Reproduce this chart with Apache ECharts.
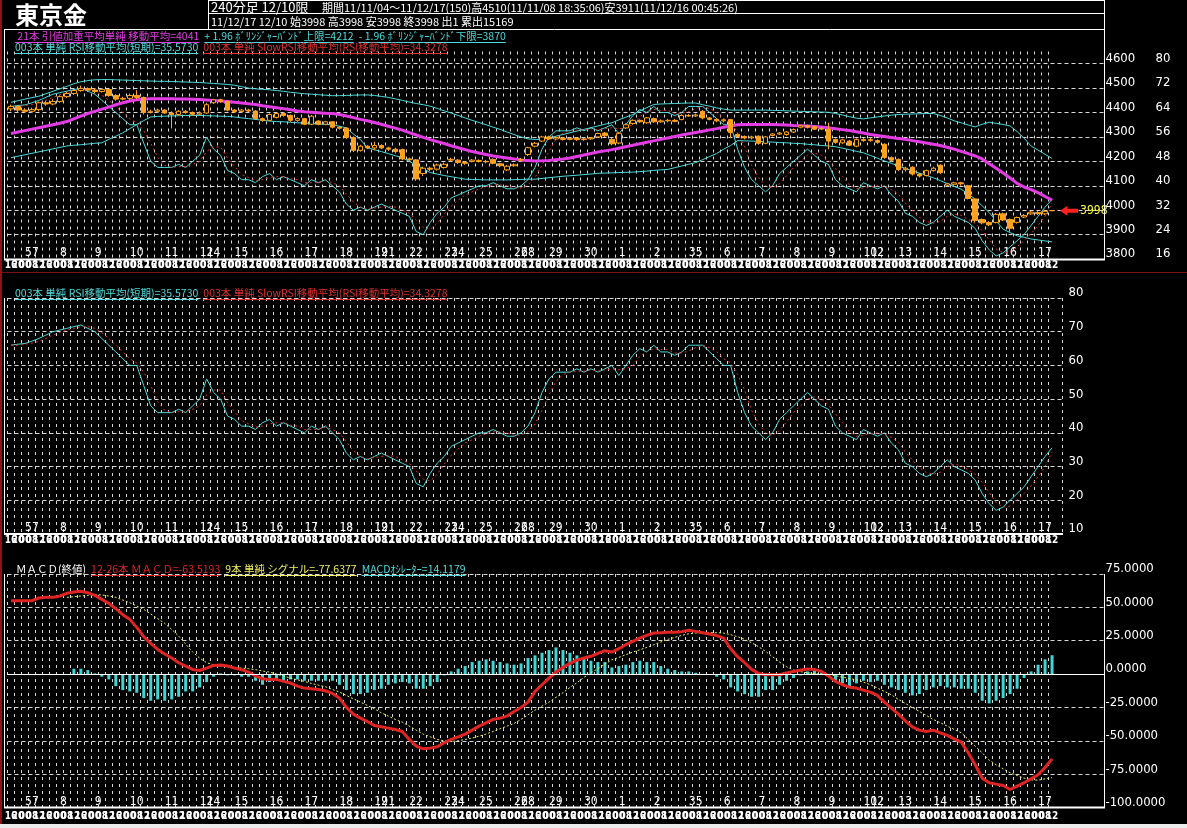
<!DOCTYPE html>
<html>
<head>
<meta charset="utf-8">
<title>東京金</title>
<script src="https://cdn.jsdelivr.net/npm/echarts@6/dist/echarts.min.js"></script>
<style>
html,body{margin:0;padding:0;background:#000;}
#main{width:1187px;height:828px;}
</style>
</head>
<body>
<div id="main"></div>
<script>
// 240分足 11/11/04 - 11/12/17, 150本
var dayTickIndex = [2,3,7,12,17,22,27,28,32,37,42,47,52,53,57,62,63,67,72,73,77,82,87,92,97,98,102,107,112,117,122,123,127,132,137,142,147];
var dayTickText = ['5','7','8','9','10','11','12','14','15','16','17','18','19','21','22','23','24','25','26','28','29','30','1','2','3','5','6','7','8','9','10','12','13','14','15','16','17'];
var hourCycle = ['16','20','00','08','12'];

// [始, 終, 安, 高]
var ohlc = [
[4415,4425,4405,4432],[4425,4410,4402,4428],[4410,4405,4398,4418],[4405,4412,4398,4420],[4412,4440,4405,4445],
[4440,4435,4428,4448],[4435,4445,4430,4455],[4445,4465,4440,4470],[4465,4478,4460,4485],[4478,4490,4472,4495],
[4490,4498,4485,4510],[4498,4492,4485,4503],[4492,4486,4478,4500],[4486,4494,4482,4500],[4494,4470,4465,4496],
[4470,4455,4448,4475],[4455,4458,4450,4465],[4458,4470,4450,4478],[4470,4462,4455,4492],[4462,4400,4392,4465],
[4400,4405,4396,4412],[4405,4410,4398,4416],[4410,4398,4395,4414],[4398,4392,4335,4405],[4392,4405,4388,4410],
[4405,4400,4395,4410],[4400,4393,4388,4404],[4393,4398,4388,4405],[4398,4432,4395,4440],[4440,4452,4435,4456],
[4452,4446,4440,4456],[4446,4410,4405,4448],[4410,4404,4398,4414],[4404,4410,4400,4414],[4410,4406,4402,4415],
[4406,4375,4370,4410],[4375,4368,4362,4380],[4368,4392,4365,4396],[4380,4396,4376,4399],[4396,4388,4383,4401],
[4388,4368,4362,4392],[4368,4375,4362,4380],[4375,4352,4348,4378],[4352,4385,4348,4390],[4365,4352,4348,4368],
[4352,4362,4348,4366],[4362,4340,4335,4365],[4340,4336,4330,4345],[4336,4298,4292,4340],[4298,4245,4238,4302],
[4245,4262,4240,4268],[4262,4255,4250,4266],[4255,4265,4245,4280],[4265,4255,4250,4270],[4255,4250,4243,4260],
[4250,4240,4232,4256],[4248,4210,4205,4252],[4210,4206,4200,4216],[4206,4128,4120,4210],[4150,4172,4140,4178],
[4172,4168,4160,4178],[4168,4185,4162,4190],[4175,4188,4170,4195],[4205,4208,4200,4215],[4205,4195,4190,4210],
[4195,4192,4186,4200],[4200,4205,4196,4210],[4204,4200,4195,4208],[4200,4198,4192,4206],[4208,4192,4188,4212],
[4190,4182,4176,4194],[4165,4180,4160,4186],[4182,4186,4178,4192],[4205,4208,4200,4214],[4228,4256,4222,4260],
[4262,4274,4258,4280],[4283,4300,4280,4305],[4300,4292,4288,4305],[4292,4298,4288,4302],[4294,4290,4285,4300],
[4290,4294,4286,4298],[4294,4289,4284,4298],[4289,4292,4284,4297],[4292,4296,4288,4300],[4300,4314,4296,4318],
[4316,4305,4300,4320],[4290,4272,4266,4295],[4275,4315,4270,4320],[4337,4350,4332,4356],[4355,4368,4350,4372],
[4368,4362,4358,4372],[4358,4378,4354,4382],[4375,4362,4358,4380],[4362,4366,4358,4372],[4366,4368,4360,4374],
[4368,4364,4360,4374],[4371,4388,4368,4393],[4388,4386,4382,4394],[4386,4390,4382,4396],[4405,4378,4372,4410],
[4378,4372,4368,4382],[4372,4366,4360,4376],[4366,4370,4360,4375],[4371,4318,4295,4374],[4310,4302,4296,4314],
[4302,4296,4290,4306],[4296,4300,4290,4305],[4303,4274,4268,4306],[4274,4300,4270,4304],[4306,4312,4302,4316],
[4312,4316,4308,4320],[4310,4320,4305,4324],[4320,4330,4316,4335],[4340,4346,4335,4350],[4346,4340,4335,4350],
[4342,4332,4328,4346],[4332,4335,4328,4340],[4331,4283,4250,4358],[4290,4278,4272,4294],[4276,4288,4272,4292],
[4283,4266,4262,4288],[4262,4290,4258,4294],[4290,4285,4280,4295],[4285,4290,4280,4296],[4285,4278,4272,4290],
[4270,4216,4210,4274],[4215,4205,4198,4220],[4208,4166,4160,4212],[4166,4172,4158,4178],[4176,4148,4142,4180],
[4148,4140,4134,4152],[4142,4162,4138,4166],[4162,4172,4158,4178],[4184,4154,4148,4188],[4102,4108,4098,4112],
[4106,4112,4100,4116],[4112,4108,4100,4116],[4100,4048,4044,4104],[4046,3958,3950,4050],[3962,3948,3942,3966],
[3950,3940,3935,3955],[3950,3983,3946,3988],[3985,3960,3955,3990],[3962,3926,3911,3966],[3950,3970,3945,3974],
[3972,3978,3968,3984],[3985,3992,3980,3996],[3990,3986,3980,3996],[3985,3995,3980,4002],[3998,3998,3998,3998]
];

var ma21 = [
4314,4320,4326,4332,4338,4344,4350,4356,4363,4374,
4385,4396,4405,4414,4422,4432,4440,4447,4452,4455,
4456,4456,4456,4456,4455,4455,4454,4453,4451,4449,
4447,4445,4442,4439,4436,4433,4428,4424,4420,4416,
4411,4406,4403,4401,4399,4397,4396,4392,4386,4379,
4372,4366,4359,4352,4344,4336,4328,4318,4308,4298,
4289,4281,4273,4264,4256,4248,4240,4234,4228,4222,
4218,4214,4210,4206,4203,4201,4202,4204,4207,4210,
4214,4220,4226,4232,4238,4243,4248,4254,4260,4266,
4272,4278,4284,4290,4296,4302,4308,4313,4318,4323,
4329,4334,4340,4345,4350,4351,4351,4351,4351,4351,
4350,4349,4347,4346,4345,4343,4341,4338,4334,4330,
4326,4321,4316,4310,4306,4302,4298,4294,4290,4285,
4280,4275,4270,4265,4258,4250,4241,4232,4222,4210,
4190,4172,4152,4132,4110,4095,4084,4072,4056,4041
];

var bbUpper = [
4442,4448,4455,4461,4467,4477,4487,4497,4507,4518,
4526,4531,4534,4535,4535,4534,4533,4532,4531,4530,
4529,4528,4528,4527,4526,4525,4524,4523,4521,4519,
4517,4515,4512,4506,4500,4497,4495,4493,4490,4487,
4483,4480,4477,4475,4473,4471,4469,4469,4470,4471,
4472,4472,4470,4466,4462,4456,4450,4443,4437,4432,
4426,4417,4407,4398,4388,4378,4368,4359,4350,4340,
4331,4320,4310,4300,4292,4290,4290,4296,4303,4310,
4317,4324,4331,4338,4345,4352,4358,4370,4381,4392,
4406,4420,4433,4435,4436,4437,4438,4439,4439,4432,
4426,4419,4414,4410,4410,4410,4410,4410,4410,4409,
4408,4407,4406,4405,4404,4403,4402,4401,4396,4390,
4383,4377,4374,4378,4382,4386,4389,4392,4393,4394,
4395,4396,4396,4388,4378,4366,4358,4349,4341,4352,
4360,4356,4351,4345,4322,4295,4263,4246,4229,4212
];

var bbLower = [
4215,4221,4227,4233,4239,4245,4251,4257,4263,4266,
4268,4271,4274,4276,4290,4303,4317,4334,4351,4367,
4382,4384,4385,4386,4387,4388,4388,4388,4387,4386,
4385,4384,4382,4378,4375,4372,4368,4365,4363,4362,
4360,4358,4357,4355,4353,4351,4350,4344,4337,4312,
4290,4256,4248,4240,4232,4223,4215,4200,4185,4170,
4154,4148,4142,4137,4132,4127,4126,4125,4124,4124,
4124,4124,4125,4126,4127,4127,4130,4133,4136,4139,
4141,4143,4146,4148,4151,4152,4153,4154,4155,4156,
4158,4160,4163,4165,4167,4174,4181,4188,4195,4207,
4220,4232,4250,4265,4285,4284,4283,4282,4280,4279,
4277,4276,4274,4273,4270,4268,4265,4263,4260,4254,
4248,4241,4235,4224,4213,4202,4192,4181,4171,4162,
4152,4143,4133,4121,4109,4097,4086,4066,4045,4018,
3990,3956,3922,3908,3895,3889,3882,3878,3874,3870
];

var rsi = [
66,66.3,66.5,67.2,68,69,70,70.5,71,71.5,
72,71,70,68,66,64,62,60,60,54,
48,46,46,46,47,46,48,50,56,52,
50,45,44,42,42,41,43,44,42,43,
42,41,40,42,41,42,40,38,34,32,
33,32,33,34,33,32,31,30,25,24,
28,31,33,36,37,38,39,40,40,41,
40,39,39,40,42,46,52,56,58,58,
58,59,58,59,58,59,60,57,60,63,
65,64,66,64,64,63,64,66,66,66,
64,62,60,60,52,46,42,40,38,40,
44,46,48,50,52,50,48,47,42,40,
39,38,41,40,39,40,37,35,31,30,
28,27,28,30,32,30,29,28,26,22,
19,17,18,20,22,24,27,30,33,35.57
];

var slowRsi = [
66,66,66.3,66.6,67.2,68,69,69.8,70.5,71,
71.5,71.5,71,69.7,68,66,64,62,60.7,58,
54,49.3,46.7,46,46.3,46.3,47,48,51.3,52.7,
52.7,49,46.3,43.7,42.7,41.7,42,42.7,43,43,
42.3,42,41,41,41,41.7,41,40,37.3,34.7,
33,32.3,32.7,33,33.3,33,32,31,28.7,26.3,
25.7,27.7,30.7,33.3,35.3,37,38,39,39.7,40.3,
40.3,40,39.3,39.3,40.3,42.7,46.7,51.3,55.3,57.3,
58,58.3,58.3,58.7,58.3,58.7,59,58.7,59,60,
62.7,64,65,64.7,64.7,63.7,63.7,64.3,65.3,66,
65.3,64,62,60.7,57.3,52.7,46.7,42.7,40,39.3,
40.7,43.3,46,48,50,50.7,50,48.3,45.7,43,
40.3,39,39.3,39.7,40,39.7,38.7,37.3,34.3,32,
29.7,28.3,27.7,28.3,30,30.7,30.3,29,27.7,25.3,
22.3,19.3,18,18.3,20,22,24.3,27,30,34.33
];

var macd = [
55,55,55,55,57,57.5,57.5,58.5,60.5,61.5,
62,61,59,56,53,49,44.5,41,35,28,
23,18.5,15,12,8.5,6,3.5,2.7,4.5,6.5,
6.8,6,4.5,3.3,1.5,-1.5,-3.5,-4,-4,-5.5,
-6.7,-9,-10.5,-11,-11.5,-12.5,-14.5,-18,-25,-30,
-33,-35.5,-38.5,-39.5,-40.5,-41.5,-43,-49,-54,-56,
-55.5,-54.5,-51.5,-49,-47,-45,-42,-39,-36.5,-34,
-33,-31.5,-28,-25,-21,-13,-8,-3,1.5,5,
8,10.5,12,13.3,15.5,17.5,16.5,19,22,24.5,
27,29,30.8,31,31.3,31.3,31.8,32.8,32,31,
30,28.8,27,19,13,8.5,3.5,0.5,-0.5,-0.5,
-0.5,0.8,2,3,3.8,3.5,2,-1.5,-5.5,-8,
-9.8,-10.5,-12,-13.5,-16,-21,-25.5,-30,-35,-39.5,
-42,-43,-42,-44,-46,-48.5,-51,-59,-68,-78,
-81.5,-82.5,-83.5,-86.5,-84,-81.5,-78.5,-75.5,-70,-63.52
];

var signal = [
null,null,null,null,null,null,null,null,57.5,58,
58.5,59,59.5,59.3,58.5,57.5,55.5,53.5,51,48.5,
45,41.5,38,33.5,28.5,22.5,16.5,12,8.5,7,
6,5.5,5,4.5,4,3.3,2.3,1.5,0,-1.5,
-3,-4.3,-5.5,-7,-8.3,-9.5,-11.5,-13.5,-16,-18.5,
-21,-23.5,-26,-29,-31.5,-34,-36,-39,-42,-45,
-47,-49,-50,-50.5,-50,-49,-48,-46.5,-45,-43,
-41,-39,-37,-34,-30.5,-27,-24,-21,-17.5,-14,
-10,-6.5,-2.5,1,4,7.5,10.7,12.5,14.5,16.5,
18.2,20,22,24,26,27.5,29,30.2,30.7,31,
31,31,30.7,29.5,28,26,23.5,20.5,17,13,
9,5.5,3,1.8,1,0.3,0,-0.5,-1.3,-2.3,
-3.3,-4.3,-6,-8,-10.5,-13,-15.5,-19,-22,-25,
-28,-31,-34,-36.5,-39,-41.5,-44,-49,-54,-59,
-64.5,-68,-71,-74,-76,-78,-79.3,-79.5,-78.5,-77.64
];

var osc = [
null,null,null,null,null,null,null,null,null,4,
4,3,0.5,-2,-4,-9,-12,-13,-14,-18,
-20,-19,-20,-19,-17,-13,-13,-10,-6,-2,
0.5,-1,-1,-2,-2,-5,-8,-6,-5,-5,
-4,-4,-5,-5,-5,-5,-5,-8,-12,-15,
-15,-14,-12,-11,-8,-7,-6,-7,-11,-11,
-9,-6,-1,2,4,6,9,10,11,10,
9,8,7,8,12,14,16,18,20,18,
16,14,12,10,9,9,5,6,7,9,
10,9,9,6,4,3,2,2,1,0,
-0.5,-2,-4,-10,-13,-15,-17,-17,-12,-12,
-8,-5,-3,-1,2,3,1,-2,-5,-7,
-9,-7,-5,-6,-5,-8,-10,-12,-14,-16,
-15,-12,-10,-9,-10,-10,-11,-11,-14,-20,
-22,-20,-18,-15,-11,-3,2,7,11,14.12
];

var N = ohlc.length;
var lastClose = ohlc[N - 1][1];

var dayMap = {};
dayTickIndex.forEach(function (idx, k) { dayMap[idx] = dayTickText[k]; });

function cats(n) { var a = []; for (var i = 0; i < n; i++) a.push(String(i)); return a; }
var catsWide = cats(157);   // 右端の枠まで
var catsRsi = cats(151);

var NUM_FONT = '"Liberation Sans Narrow","DejaVu Sans Condensed","DejaVu Sans",sans-serif';
var JP_FONT = '"Noto Sans CJK JP",sans-serif';
var GRID_C = '#d8d8d8';
var CYAN = '#4ddada';
var RED = '#e02424';
var SLOW_RED = '#e03030';
var ORANGE = '#ffa21f';
var MAGENTA = '#e43ce4';
var YELLOW = '#f0f060';

var PANEL_TOP = [51.5, 298, 574];
var PANEL_H = [207.5, 236, 233.5];
var BAR_W = 6.987;

function dayAxis(g, data, lastSplit) {
  return {
    type: 'category', gridIndex: g, data: data, position: 'bottom',
    axisLine: { show: false }, axisTick: { show: false },
    splitLine: { show: true, interval: function (i) { return i <= lastSplit; },
      lineStyle: { color: GRID_C, type: [3, 4], width: 1 } },
    axisLabel: { inside: true, interval: 0, margin: 0, align: 'left', lineHeight: 12,
      color: '#fff', fontSize: 12, fontFamily: NUM_FONT,
      formatter: function (v) { return dayMap[+v] || ''; } }
  };
}
function hourAxis(g, data, margin) {
  return {
    type: 'category', gridIndex: g, data: data, position: 'bottom',
    axisLine: { show: false }, axisTick: { show: false }, splitLine: { show: false },
    axisLabel: { interval: 0, margin: margin, lineHeight: 12, color: '#fff', fontSize: 10,
      fontWeight: 'bold', fontFamily: NUM_FONT,
      formatter: function (v) { var i = +v; return i < N ? hourCycle[i % 5] : ''; } }
  };
}
function valueAxis(g, min, max, interval, opt) {
  opt = opt || {};
  return {
    type: 'value', gridIndex: g, position: 'right', min: min, max: max, interval: interval,
    offset: opt.offset || 0,
    axisLine: { show: false }, axisTick: { show: false },
    splitLine: { show: opt.split !== false, showMaxLine: opt.maxLine !== false,
      lineStyle: { color: GRID_C, type: [4, 3], width: 1 } },
    axisLabel: { color: '#fff', fontFamily: NUM_FONT, fontSize: 13, margin: opt.margin || 1,
      verticalAlign: 'bottom', lineHeight: 10, showMaxLabel: opt.maxLabel !== false,
      formatter: opt.formatter || function (v) { return String(v); } }
  };
}

// 見出し文字 (下線付き)
var ctx = document.createElement('canvas').getContext('2d');
var graphics = [];
function hline(x1, x2, y, color, w) {
  graphics.push({ type: 'line', z: 100, silent: true, shape: { x1: x1, y1: y, x2: x2, y2: y },
    style: { stroke: color, lineWidth: w || 1 } });
}
function vline(x, y1, y2, color, w) {
  graphics.push({ type: 'line', z: 100, silent: true, shape: { x1: x, y1: y1, x2: x, y2: y2 },
    style: { stroke: color, lineWidth: w || 1 } });
}
function caption(x, y, text, color, size, underline, weight) {
  var font = (weight || 'normal') + ' ' + size + 'px ' + JP_FONT;
  graphics.push({ type: 'text', z: 101, silent: true, x: x, y: y,
    style: { text: text, fill: color, font: font, verticalAlign: 'middle', align: 'left' } });
  ctx.font = font;
  var w = ctx.measureText(text).width;
  if (underline) hline(x, x + w, Math.round(y + size / 2 + 1) + 0.5, color, 1);
  return x + w;
}
// 色分けした見出しを左から順に並べる
function captionRow(x, y, size, parts) {
  parts.forEach(function (p) { x = caption(x, y, p[0], p[1], size, p[2] !== false) + 5; });
}

caption(15, 15, '東京金', '#fff', 24, false, 'bold');
caption(211, 7, '240分足 12/10限', '#fff', 13, false);
caption(322, 7.5, '期間11/11/04〜11/12/17(150)高4510(11/11/08 18:35:06)安3911(11/12/16 00:45:26)', '#fff', 11, false);
caption(211, 21.5, '11/12/17 12/10 始3998 高3998 安3998 終3998 出1 累出15169', '#fff', 11, false);

captionRow(15, 36, 10.5, [
  [' 21本 引値加重平均単純 移動平均=4041', MAGENTA],
  ['+ 1.96 ﾎﾞﾘﾝｼﾞｬｰﾊﾞﾝﾄﾞ上限=4212', CYAN],
  ['- 1.96 ﾎﾞﾘﾝｼﾞｬｰﾊﾞﾝﾄﾞ下限=3870', CYAN]
]);
captionRow(15, 47, 10.5, [
  ['003本 単純 RSI移動平均(短期)=35.5730', CYAN],
  ['003本 単純 SlowRSI移動平均(RSI移動平均)=34.3278', SLOW_RED]
]);
captionRow(15, 293, 10.5, [
  ['003本 単純 RSI移動平均(短期)=35.5730', CYAN],
  ['003本 単純 SlowRSI移動平均(RSI移動平均)=34.3278', SLOW_RED]
]);
captionRow(16, 569, 10.5, [
  ['ＭＡＣＤ(終値)', '#fff', false],
  ['12-26本 ＭＡＣＤ=-63.5193', RED],
  ['9本 単純 シグナル=-77.6377', YELLOW],
  ['MACDｵｼﾚｰﾀｰ=14.1179', CYAN]
]);

// 枠線
hline(208, 1105, 0.5, '#fff');
hline(208, 1105, 13.5, '#fff');
hline(4, 1105, 29.5, '#fff');
vline(208.5, 0, 30, '#fff');
vline(1104.5, 0, 260, '#fff');
vline(4.5, 29, 260, '#fff');
hline(4, 1105, 259.5, '#fff', 2);
vline(4.5, 298, 535, '#fff');
hline(4, 1063, 534, '#fff', 2);
vline(4.5, 574, 808, '#fff');
vline(1104.5, 574, 808, '#fff');
hline(4, 1105, 807.5, '#fff', 2);
hline(0, 1187, 272.5, '#7a1010', 1);
vline(1, 0, 828, '#8a1414', 2);
graphics.push({ type: 'rect', z: 100, silent: true, shape: { x: 0, y: 824, width: 1187, height: 4 },
  style: { fill: '#ececec' } });

var chart = echarts.init(document.getElementById('main'), null, { renderer: 'canvas' });
chart.setOption({
  backgroundColor: '#000',
  animation: false,
  grid: [
    { left: 7.5, top: PANEL_TOP[0], width: 157 * BAR_W, height: PANEL_H[0], outerBoundsMode: 'none' },
    { left: 7.5, top: PANEL_TOP[1], width: 151 * BAR_W, height: PANEL_H[1], outerBoundsMode: 'none' },
    { left: 7.5, top: PANEL_TOP[2], width: 157 * BAR_W, height: PANEL_H[2], outerBoundsMode: 'none' }
  ],
  xAxis: [
    dayAxis(0, catsWide, 149), hourAxis(0, catsWide, 0),
    dayAxis(1, catsRsi, 149), hourAxis(1, catsRsi, 0),
    dayAxis(2, catsWide, 149), hourAxis(2, catsWide, 3)
  ],
  yAxis: [
    valueAxis(0, 3800, 4650, 100, { maxLine: false, maxLabel: false }),
    valueAxis(0, 16, 84, 8, { offset: 50, split: false, maxLabel: false }),
    valueAxis(1, 10, 80, 10, { margin: 6 }),
    valueAxis(2, -100, 75, 25, { formatter: function (v) { return v.toFixed(4); } })
  ],
  graphic: graphics,
  series: [
    { name: 'BB上限', type: 'line', xAxisIndex: 0, yAxisIndex: 0, data: bbUpper, symbol: 'none',
      lineStyle: { color: CYAN, width: 1 }, z: 2 },
    { name: 'BB下限', type: 'line', xAxisIndex: 0, yAxisIndex: 0, data: bbLower, symbol: 'none',
      lineStyle: { color: CYAN, width: 1 }, z: 2 },
    { name: 'RSI', type: 'line', xAxisIndex: 0, yAxisIndex: 1, data: rsi, symbol: 'none',
      lineStyle: { color: CYAN, width: 1 }, z: 2 },
    { name: 'SlowRSI', type: 'line', xAxisIndex: 0, yAxisIndex: 1, data: slowRsi, symbol: 'none',
      lineStyle: { color: SLOW_RED, width: 1, type: [2, 3] }, z: 3 },
    { name: '移動平均', type: 'line', xAxisIndex: 0, yAxisIndex: 0, data: ma21, symbol: 'none',
      lineStyle: { color: MAGENTA, width: 3 }, z: 3 },
    { name: '東京金', type: 'candlestick', xAxisIndex: 0, yAxisIndex: 0, data: ohlc, barWidth: 5,
      itemStyle: { color: '#000', color0: ORANGE, borderColor: ORANGE, borderColor0: ORANGE, borderWidth: 1 },
      z: 4,
      markPoint: {
        silent: true,
        symbol: 'path://M0,5 L9,0 L9,3 L22,3 L22,7 L9,7 L9,10 Z',
        symbolSize: [18, 10], symbolOffset: [17, 0], symbolKeepAspect: false,
        itemStyle: { color: '#ff2020' },
        label: { show: true, position: 'right', distance: 2, color: '#ffff40', fontSize: 12,
          fontFamily: NUM_FONT, formatter: String(lastClose) },
        data: [{ coord: [N - 1, lastClose] }]
      } },

    { name: 'RSI2', type: 'line', xAxisIndex: 2, yAxisIndex: 2, data: rsi, symbol: 'none',
      lineStyle: { color: CYAN, width: 1 }, z: 2 },
    { name: 'SlowRSI2', type: 'line', xAxisIndex: 2, yAxisIndex: 2, data: slowRsi, symbol: 'none',
      lineStyle: { color: SLOW_RED, width: 1, type: [2, 3] }, z: 3 },

    { name: 'MACDｵｼﾚｰﾀｰ', type: 'bar', xAxisIndex: 4, yAxisIndex: 3, data: osc, barWidth: 3,
      itemStyle: { color: '#40d4d4' }, z: 2 },
    { name: 'シグナル', type: 'line', xAxisIndex: 4, yAxisIndex: 3, data: signal, symbol: 'none',
      lineStyle: { color: YELLOW, width: 1, type: [2, 2] }, z: 3 },
    { name: 'MACD', type: 'line', xAxisIndex: 4, yAxisIndex: 3, data: macd, symbol: 'none',
      lineStyle: { color: RED, width: 3 }, z: 4,
      markLine: { silent: true, symbol: ['none', 'none'], label: { show: false },
        lineStyle: { color: '#fff', type: 'solid', width: 1 }, data: [{ yAxis: 0 }] } }
  ]
});
</script>
</body>
</html>
